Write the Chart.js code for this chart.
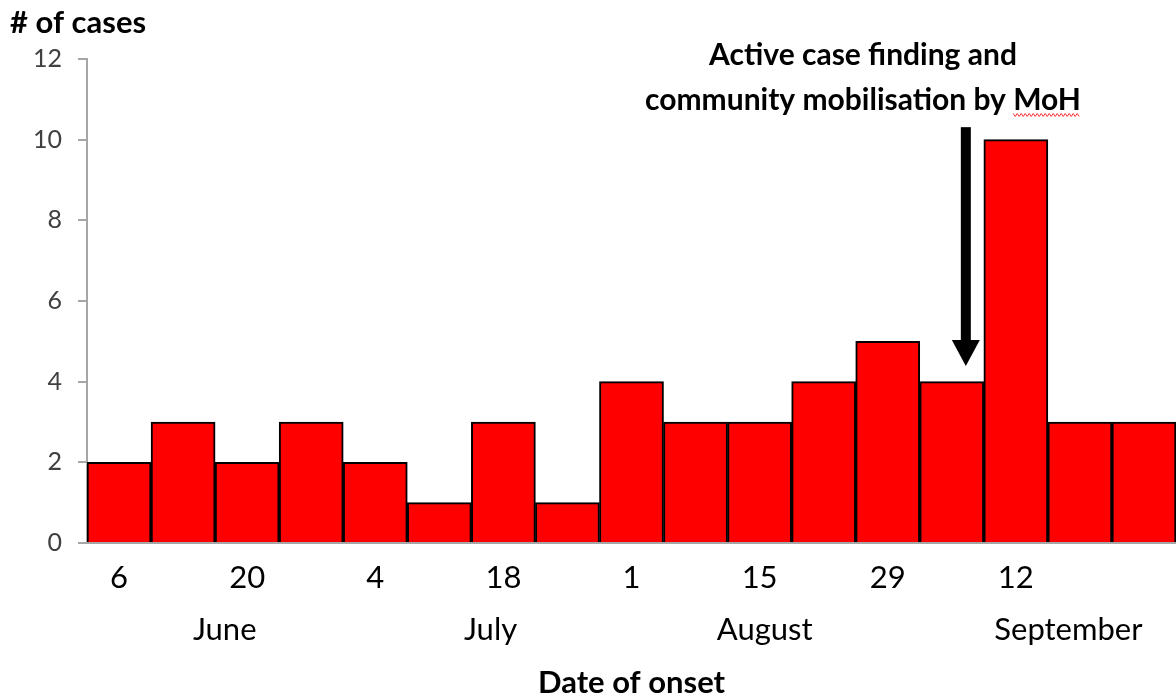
<!DOCTYPE html>
<html>
<head>
<meta charset="utf-8">
<script src="https://cdn.jsdelivr.net/npm/chart.js@4"></script>
<style>
  html, body { margin: 0; padding: 0; background: #fff; }
  #wrap { width: 1176px; height: 698px; }
</style>
</head>
<body>
<div id="wrap"><canvas id="casesChart" width="1176" height="698"></canvas></div>
<script>
// weekly counts by date of onset
const weeks = ['6', '', '20', '', '4', '', '18', '', '1', '', '15', '', '29', '', '12', '', ''];
const cases = [2, 3, 2, 3, 2, 1, 3, 1, 4, 3, 3, 4, 5, 4, 10, 3, 3];
const months = ['June', 'July', 'August', 'September'];
const monthPos = [1.65, 5.8, 10.08, 14.82]; // where the month names sit, in bar index units
const yTicks = [0, 2, 4, 6, 8, 10, 12];

const FONT = 'Lato, "Open Sans", sans-serif';

// arrow + note, title, placed with the scales
const extras = {
    id: 'extras',
    afterDraw(chart) {
        const c = chart.ctx;
        const x = chart.scales.x, y = chart.scales.y;
        c.save();
        c.fillStyle = '#000';
        c.font = 'bold 31px ' + FONT;
        c.textBaseline = 'alphabetic';
        c.textAlign = 'left';
        c.fillText('# of cases', 10, 33);

        // note text
        c.font = 'bold 30px ' + FONT;
        c.textAlign = 'center';
        c.fillText('Active case finding and', 863, 65);
        c.fillText('community mobilisation by MoH', 863, 110);

        // spell-check squiggle under MoH
        const w = c.measureText('community mobilisation by MoH').width;
        const wm = c.measureText('MoH').width;
        const sx = 863 + w / 2 - wm, ex = 863 + w / 2;
        c.strokeStyle = '#ff3030';
        c.lineWidth = 1;
        c.beginPath();
        for (let px = sx, k = 0; px <= ex; px += 2, k++) {
            const py = 115 + (k % 2 ? 1.5 : -1.5);
            if (k === 0) c.moveTo(px, py); else c.lineTo(px, py);
        }
        c.stroke();

        // arrow pointing at the week before the peak
        const ax = (x.getPixelForValue(13) + x.getPixelForValue(14)) / 2 - 18;
        const top = y.getPixelForValue(10.31);
        const tip = y.getPixelForValue(4.39);
        c.fillRect(ax - 5, top, 10, tip - top - 24);
        c.beginPath();
        c.moveTo(ax - 14, tip - 26);
        c.lineTo(ax + 14, tip - 26);
        c.lineTo(ax, tip);
        c.closePath();
        c.fill();
        c.restore();
    }
};

new Chart(document.getElementById('casesChart'), {
    type: 'bar',
    data: {
        labels: weeks,
        datasets: [{
            data: cases,
            backgroundColor: '#ff0000',
            borderColor: '#000',
            borderWidth: 2,
            barPercentage: 1,
            categoryPercentage: 1
        }]
    },
    options: {
        responsive: false,
        animation: false,
        layout: { padding: { top: 59, right: -3, left: 0, bottom: 0 } },
        plugins: { legend: { display: false }, tooltip: { enabled: false }, title: { display: false } },
        scales: {
            x: {
                grid: { display: false, drawTicks: false },
                border: { display: true, color: '#a6a6a6', width: 2 },
                ticks: { color: '#000', font: { family: FONT, size: 31, lineHeight: 1 }, padding: 19, autoSkip: false, maxRotation: 0 }
            },
            x2: {
                type: 'linear',
                position: 'bottom',
                offset: false,
                min: -0.5,
                max: cases.length - 0.5,
                grid: { display: false, drawTicks: false },
                border: { display: false },
                afterBuildTicks(scale) {
                    scale.ticks = monthPos.map(v => ({ value: v }));
                },
                ticks: {
                    color: '#000',
                    font: { family: FONT, size: 31, lineHeight: 1 },
                    padding: 2,
                    autoSkip: false,
                    maxRotation: 0,
                    callback: (v, i) => months[i]
                },
                title: {
                    display: true,
                    text: 'Date of onset',
                    color: '#000',
                    font: { family: FONT, size: 31, weight: 'bold', lineHeight: 1 },
                    padding: { top: 20, bottom: 0 }
                }
            },
            y: {
                min: 0,
                max: 12,
                afterBuildTicks(scale) {
                    scale.ticks = yTicks.map(v => ({ value: v }));
                },
                afterFit(scale) { scale.width = 87; },
                grid: { drawOnChartArea: false, drawTicks: true, tickLength: 9, color: '#a6a6a6', lineWidth: 2 },
                border: { color: '#a6a6a6', width: 2 },
                ticks: { color: '#404040', font: { family: FONT, size: 25 }, padding: 16 }
            }
        }
    },
    plugins: [extras]
});
</script>
</body>
</html>
